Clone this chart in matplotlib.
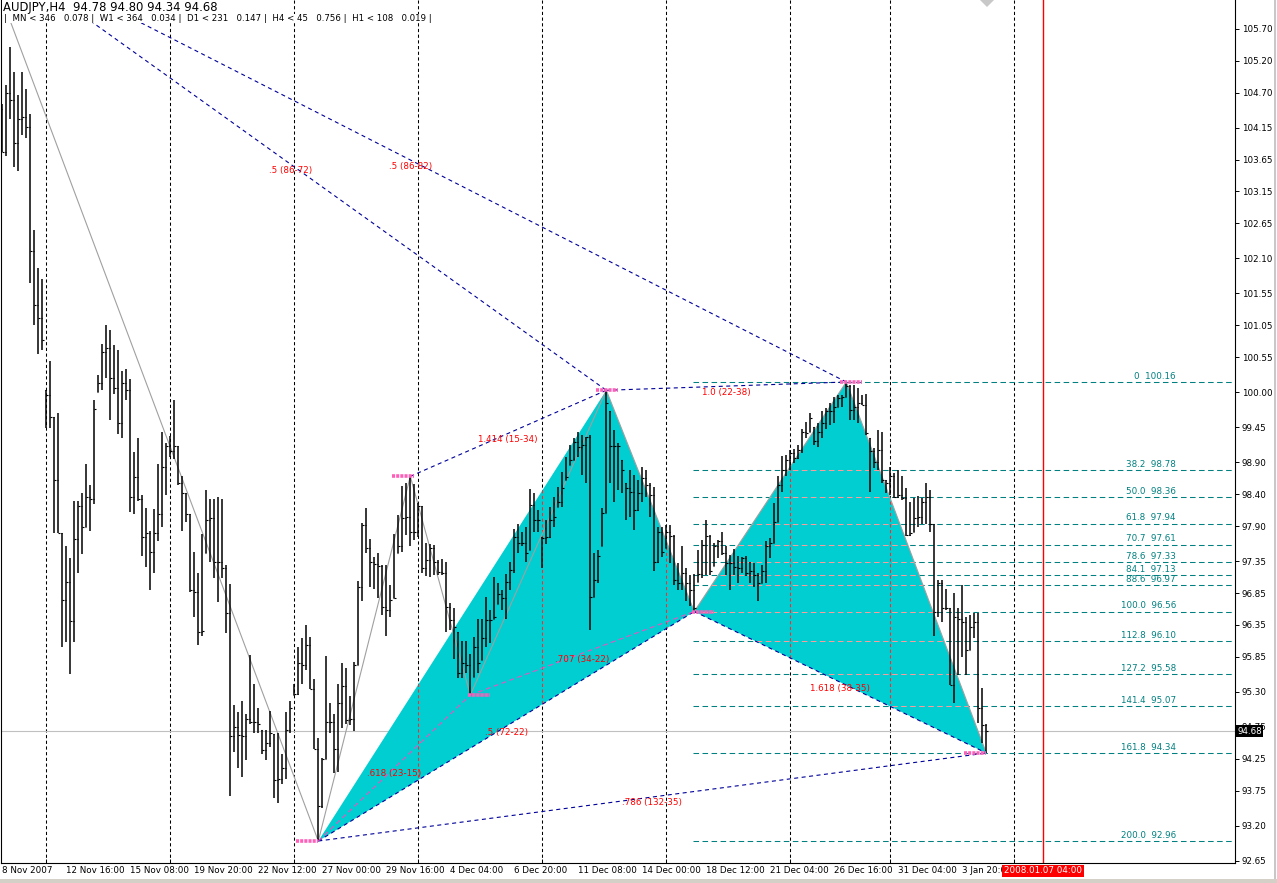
import numpy as np
import matplotlib
matplotlib.use("Agg")
import matplotlib.pyplot as plt
import matplotlib.transforms as mtransforms
from matplotlib.collections import LineCollection
from matplotlib.patches import Polygon, Rectangle

plt.rcParams['font.family'] = ['DejaVu Sans']
plt.rcParams['lines.scale_dashes'] = False

# ---------------- data ----------------
symbol_line = "AUDJPY,H4  94.78 94.80 94.34 94.68"
info_line = "|  MN < 346   0.078 |  W1 < 364   0.034 |  D1 < 231   0.147 |  H4 < 45   0.756 |  H1 < 108   0.019 |"

# H4 bars, index 0 = first visible bar (8 Nov 2007)
highs = [104.52, 104.82, 105.42, 105.02, 104.66, 105.02, 104.76, 104.36, 102.54, 101.95,
         101.77, 100.04, 100.49, 99.61, 99.67, 97.79, 97.59, 97.40, 98.30, 98.29,
         98.42, 98.88, 98.55, 99.87, 100.27, 100.76, 101.06, 100.98, 100.74, 100.66,
         100.33, 100.37, 100.20, 99.06, 99.28, 98.39, 98.19, 97.83, 98.17, 98.88,
         99.38, 99.21, 99.31, 99.87, 99.15, 98.68, 98.42, 98.09, 97.50, 97.17,
         97.77, 98.46, 98.33, 98.33, 98.35, 98.33, 97.29, 96.99, 95.09, 94.99,
         95.15, 94.96, 95.88, 95.43, 95.04, 94.70, 94.70, 95.00, 94.64, 94.65,
         94.33, 94.98, 95.15, 95.43, 96.01, 96.15, 96.35, 96.16, 95.50, 94.57,
         94.26, 95.86, 95.13, 94.96, 95.42, 95.75, 95.68, 95.23, 95.77, 97.04,
         97.95, 98.18, 97.69, 97.41, 97.48, 97.29, 97.29, 96.97, 97.78, 98.07,
         98.53, 98.57, 98.68, 98.56, 98.26, 98.21, 97.64, 97.62, 97.60, 97.37,
         97.38, 97.34, 96.69, 96.62, 96.24, 96.09, 96.09, 95.90, 96.16, 96.44,
         96.45, 96.79, 96.58, 97.10, 97.00, 96.90, 97.15, 97.33, 97.86, 97.94,
         97.81, 97.89, 98.48, 98.42, 98.15, 97.73, 97.99, 98.20, 98.35, 98.52,
         98.75, 98.99, 99.17, 99.28, 99.38, 99.33, 99.30, 99.33, 97.47, 97.53,
         98.18, 100.03, 99.70, 99.41, 99.20, 98.94, 98.57, 98.78, 98.70, 98.62,
         98.83, 98.78, 98.57, 98.52, 97.89, 97.89, 97.92, 97.92, 97.76, 97.32,
         97.58, 97.24, 97.13, 97.15, 97.53, 97.68, 97.99, 97.76, 97.64, 97.68,
         97.81, 97.58, 97.45, 97.54, 97.43, 97.42, 97.43, 97.33, 97.32, 97.16,
         97.29, 97.66, 97.71, 98.26, 98.69, 99.00, 99.02, 99.10, 99.11, 99.17,
         99.43, 99.54, 99.67, 99.46, 99.51, 99.70, 99.75, 99.83, 99.93, 99.96,
         99.96, 100.16, 100.11, 100.11, 100.06, 99.96, 99.97, 99.28, 99.12, 99.41,
         99.38, 98.62, 98.82, 98.73, 98.78, 98.68, 98.49, 98.28, 98.34, 98.37,
         98.34, 98.57, 98.47, 97.94, 97.06, 97.06, 96.92, 96.61, 96.85, 96.61,
         96.98, 96.48, 96.51, 96.53, 96.53, 95.36, 94.80]
lows = [103.77, 103.70, 104.29, 103.54, 103.47, 104.03, 103.98, 101.72, 101.06, 100.60,
        100.66, 99.44, 99.44, 97.79, 97.79, 96.01, 96.08, 95.58, 96.08, 97.17,
        97.46, 97.89, 97.83, 98.25, 100.00, 100.04, 100.23, 99.57, 99.97, 99.34,
        99.28, 99.87, 98.12, 98.09, 98.29, 97.43, 97.26, 96.90, 97.17, 97.66,
        97.89, 98.39, 98.98, 98.95, 98.55, 97.83, 97.96, 96.87, 96.47, 96.04,
        96.17, 97.47, 97.34, 97.08, 96.71, 97.08, 96.23, 93.66, 94.35, 94.10,
        93.97, 94.23, 94.80, 94.66, 94.66, 94.33, 94.23, 94.44, 93.64, 93.55,
        93.85, 93.94, 94.65, 95.25, 95.25, 95.42, 95.64, 95.34, 94.40, 92.96,
        93.47, 94.24, 94.65, 94.02, 94.05, 94.73, 94.80, 94.78, 94.68, 95.72,
        96.73, 97.47, 96.95, 96.92, 96.77, 96.50, 96.17, 96.47, 96.77, 97.47,
        97.50, 97.76, 97.59, 97.68, 97.73, 97.16, 97.12, 97.10, 97.13, 97.13,
        97.13, 96.24, 96.27, 95.82, 95.51, 95.51, 95.59, 95.25, 95.54, 95.59,
        95.80, 96.01, 96.06, 96.44, 96.68, 96.58, 96.44, 96.89, 97.17, 97.47,
        97.58, 97.34, 97.52, 97.81, 97.81, 97.25, 97.62, 97.71, 97.89, 98.20,
        98.20, 98.63, 98.86, 98.94, 98.99, 98.70, 98.58, 96.27, 96.79, 97.00,
        97.58, 98.10, 98.57, 98.28, 98.47, 98.42, 98.00, 98.05, 97.84, 98.13,
        98.28, 98.36, 98.05, 97.19, 97.32, 97.42, 97.55, 97.32, 96.98, 96.90,
        96.90, 96.72, 96.64, 96.56, 97.03, 97.08, 97.13, 97.13, 97.27, 97.40,
        97.45, 97.13, 96.90, 97.13, 97.00, 97.16, 97.11, 97.00, 96.95, 96.72,
        97.00, 97.00, 97.40, 97.63, 97.97, 98.44, 98.69, 98.78, 98.89, 98.95,
        99.04, 99.28, 99.38, 99.17, 99.14, 99.28, 99.43, 99.49, 99.52, 99.77,
        99.77, 99.93, 99.57, 99.57, 99.52, 99.80, 99.33, 98.44, 98.81, 98.78,
        98.57, 98.42, 98.39, 98.34, 98.34, 98.31, 97.74, 97.74, 97.81, 97.89,
        97.94, 97.94, 97.81, 96.17, 96.48, 96.40, 96.59, 95.41, 95.12, 95.57,
        95.85, 95.57, 95.96, 96.14, 94.81, 94.49, 94.34]
closes = [103.77, 104.69, 104.59, 103.91, 104.29, 104.31, 104.16, 102.21, 101.36, 101.16,
          100.82, 99.95, 99.61, 98.62, 97.79, 96.74, 97.03, 96.41, 97.69, 98.22,
          97.89, 98.35, 98.32, 99.74, 100.14, 100.63, 100.70, 100.23, 100.07, 99.51,
          100.14, 100.04, 98.35, 98.67, 98.32, 97.73, 97.79, 97.50, 97.79, 98.09,
          98.82, 99.15, 99.08, 99.15, 98.58, 98.42, 98.09, 96.90, 96.87, 96.24,
          96.26, 97.99, 98.02, 97.34, 97.34, 97.24, 96.53, 94.60, 94.75, 94.62,
          94.60, 94.88, 94.83, 94.82, 94.80, 94.39, 94.49, 94.65, 93.92, 93.94,
          94.10, 94.70, 95.04, 95.27, 95.75, 95.72, 96.03, 95.35, 94.40, 93.51,
          94.24, 94.83, 94.83, 94.40, 95.12, 95.39, 94.86, 94.88, 95.72, 96.95,
          97.92, 97.55, 97.34, 97.30, 97.27, 96.63, 96.58, 96.74, 96.77, 97.58,
          98.02, 98.05, 97.81, 97.81, 98.21, 97.24, 97.37, 97.55, 97.34, 97.18,
          97.16, 96.63, 96.43, 96.32, 95.59, 95.75, 95.72, 95.26, 96.01, 95.75,
          96.14, 96.43, 96.43, 96.48, 96.84, 96.77, 97.03, 97.21, 97.73, 97.63,
          97.63, 97.48, 98.23, 98.00, 98.00, 97.71, 97.73, 98.00, 98.05, 98.28,
          98.49, 98.67, 98.94, 99.22, 99.14, 99.17, 99.30, 96.79, 97.05, 97.43,
          98.10, 99.83, 99.15, 99.15, 99.16, 98.78, 98.49, 98.44, 98.15, 98.42,
          98.65, 98.55, 98.39, 97.33, 97.81, 97.50, 97.80, 97.74, 97.06, 97.00,
          97.16, 97.00, 96.90, 96.61, 97.15, 97.60, 97.74, 97.19, 97.58, 97.66,
          97.47, 97.32, 97.32, 97.26, 97.24, 97.40, 97.16, 97.19, 97.13, 97.00,
          97.19, 97.58, 97.63, 97.97, 98.55, 98.78, 98.94, 99.04, 98.96, 99.10,
          99.38, 99.36, 99.59, 99.23, 99.38, 99.51, 99.70, 99.70, 99.77, 99.91,
          99.93, 100.09, 99.72, 99.77, 99.83, 99.80, 99.36, 99.07, 98.91, 99.10,
          98.62, 98.57, 98.68, 98.36, 98.39, 98.34, 97.76, 97.79, 98.02, 98.05,
          98.28, 98.36, 97.94, 96.56, 97.00, 96.61, 96.61, 95.41, 96.48, 96.45,
          96.40, 95.96, 96.32, 96.40, 95.04, 94.78, 94.68]
first_open = 104.45
last_open = 94.78
last_price = 94.68

# harmonic pattern pivots (bar index, price); P0 lies off the top-left corner
pivots = {
    "P0": (-6.8, 107.12),
    "Z0": (-3.1, 106.67),
    "X": (79, 92.96),
    "B": (102, 98.68),
    "A": (117, 95.25),
    "C": (151, 100.03),
    "D1": (173, 96.56),
    "D2": (211, 100.16),
    "E": (246, 94.34),
}
zigzag = ["Z0", "X", "B", "A", "C", "D1", "D2", "E"]
blue_lines = [("P0", "C", ".5 (86-72)"), ("P0", "D2", ".5 (86-82)"),
              ("B", "C", "1.414 (15-34)"), ("C", "D2", "1.0 (22-38)"),
              ("X", "D1", ".5 (72-22)"), ("D1", "E", "1.618 (38-35)"),
              ("X", "E", ".786 (132-35)")]
pink_lines = [("X", "A", ".618 (23-15)"), ("A", "D1", ".707 (34-22)")]
marker_start = [73.5, 97.5, 116.5, 148.5, 172.5, 209.5, 240.5]
marker_price = [92.96, 98.68, 95.25, 100.03, 96.56, 100.16, 94.34]

fib_levels = ["0", "38.2", "50.0", "61.8", "70.7", "78.6", "84.1", "88.6",
              "100.0", "112.8", "127.2", "141.4", "161.8", "200.0"]
fib_prices = [100.16, 98.78, 98.36, 97.94, 97.61, 97.33, 97.13, 96.97,
              96.56, 96.10, 95.58, 95.07, 94.34, 92.96]

separators = [11, 42, 73, 104, 135, 166, 197, 222, 253]
date_idx = list(range(0, 241, 16))
date_labels = ["8 Nov 2007", "12 Nov 16:00", "15 Nov 08:00", "19 Nov 20:00",
               "22 Nov 12:00", "27 Nov 00:00", "29 Nov 16:00", "4 Dec 04:00",
               "6 Dec 20:00", "11 Dec 08:00", "14 Dec 00:00", "18 Dec 12:00",
               "21 Dec 04:00", "26 Dec 16:00", "31 Dec 04:00", "3 Jan 20:00"]
red_idx = 260.2
red_label = "2008.01.07 04:00"
price_ticks = ["105.70", "105.20", "104.70", "104.15", "103.65", "103.15", "102.65",
               "102.10", "101.55", "101.05", "100.55", "100.00", "99.45", "98.90",
               "98.40", "97.90", "97.35", "96.85", "96.35", "95.85", "95.30",
               "94.75", "94.25", "93.75", "93.20", "92.65"]

# ---------------- figure ----------------
W, H = 1277, 883
fig = plt.figure(figsize=(W / 100, H / 100), dpi=100)
fig.patch.set_facecolor("white")
ax = fig.add_axes([1 / W, 20 / H, 1234 / W, 863 / H])
x0, x1 = -0.325, 308.175
y0, y1 = 92.615, 106.152
ax.set_xlim(x0, x1)
ax.set_ylim(y0, y1)

CYAN = "#00CED1"
TEAL = "#008080"
NAVY = "#00009A"
PINK = "#F050C0"
FS = 6.3

# period separators
sep_ls = (0, (2.3, 1.8))
ax.vlines(separators, y0, y1, colors="black", linestyles=sep_ls, lw=0.75, zorder=0.7)

# fibonacci levels
fib_ls = (0, (4, 2.5))
fib_x0 = pivots["D1"][0] - 0.3
ax.hlines(fib_prices, fib_x0, x1, colors=TEAL, linestyles=fib_ls, lw=0.75, zorder=0.8)
for lvl, p in zip(fib_levels, fib_prices):
    ax.annotate(f"{lvl}  {p:.2f}", (293.4, p), xytext=(0, 0.8), textcoords="offset points",
                ha="right", va="bottom", color=TEAL, fontsize=FS, zorder=5)

# current price line
ax.axhline(last_price, color="#C0C0C0", lw=0.8, zorder=0.9)

# cyan pattern triangles
tri1 = Polygon([pivots["X"], pivots["C"], pivots["D1"]], closed=True, fc=CYAN, ec="none", zorder=1)
tri2 = Polygon([pivots["D1"], pivots["D2"], pivots["E"]], closed=True, fc=CYAN, ec="none", zorder=1)
ax.add_patch(tri1)
ax.add_patch(tri2)

# lines drawn over the cyan change colour (xor look of the terminal)
for tri in (tri1, tri2):
    lc = ax.vlines(separators, y0, y1, colors="#FF2A2A", linestyles=sep_ls, lw=0.75, zorder=1.2)
    lc.set_clip_path(tri)
    lc = ax.hlines(fib_prices, fib_x0, x1, colors="#FF9A9A", linestyles=fib_ls, lw=0.75, zorder=1.2)
    lc.set_clip_path(tri)

# red time line
ax.axvline(red_idx, color="red", lw=1.0, zorder=1.5)

# zigzag
ax.plot([pivots[k][0] for k in zigzag], [pivots[k][1] for k in zigzag],
        color="#A0A0A0", lw=0.8, zorder=2)

# OHLC bars
n = len(highs)
idx = np.arange(n)
opens = np.r_[first_open, closes[:-1]]
opens[-1] = last_open
opens = np.clip(opens, lows, highs)
tk = 0.42
vsegs = [[(i, lo), (i, hi)] for i, lo, hi in zip(idx, lows, highs)]
tsegs = [[(i - tk, o), (i, o)] for i, o in zip(idx, opens)] + \
        [[(i, c), (i + tk, c)] for i, c in zip(idx, closes)]
ax.add_collection(LineCollection(vsegs, colors="black", lw=1.1, zorder=3))
ax.add_collection(LineCollection(tsegs, colors="black", lw=0.8, zorder=3))

# pattern legs with their ratio labels
def leg(a, b, text, color, ls):
    (xa, ya), (xb, yb) = pivots[a], pivots[b]
    ax.plot([xa, xb], [ya, yb], color=color, lw=0.8, ls=ls, zorder=4)
    ax.annotate(text, ((xa + xb) / 2, (ya + yb) / 2), xytext=(0, -4.3),
                textcoords="offset points", ha="center", va="center",
                color="red", fontsize=FS, zorder=6)

for a, b, t in blue_lines:
    leg(a, b, t, NAVY, (0, (2.9, 2.5)))
for a, b, t in pink_lines:
    leg(a, b, t, PINK, (0, (3.5, 2.5)))

# pivot markers
for s, p in zip(marker_start, marker_price):
    ax.plot([s, s + 5.5], [p, p], color="#FF5FB8", lw=2.6, ls=(0, (2.2, 0.8)),
            solid_capstyle="butt", dash_capstyle="butt", zorder=5)

# axes styling
for side in ("left", "right", "bottom"):
    ax.spines[side].set_color("black")
    ax.spines[side].set_linewidth(0.8)
ax.spines["top"].set_visible(False)
ax.yaxis.tick_right()
ax.set_yticks([float(t) for t in price_ticks])
ax.set_yticklabels(price_ticks)
ax.tick_params(axis="y", direction="out", length=3, width=0.7, pad=2, labelsize=FS)
ax.set_xticks(separators)
ax.tick_params(axis="x", direction="in", length=3, width=0.7, labelbottom=False)

trans = mtransforms.blended_transform_factory(ax.transData, ax.transAxes)
for i, lab in zip(date_idx, date_labels):
    ax.text(i, -0.004, lab, transform=trans, ha="left", va="top", fontsize=FS, clip_on=False)
ax.text(red_idx, -0.004, red_label, transform=trans, ha="center", va="top", color="white",
        fontsize=FS, clip_on=False, zorder=20,
        bbox=dict(boxstyle="square,pad=0.22", fc="red", ec="none"))

ptrans = mtransforms.blended_transform_factory(ax.transAxes, ax.transData)
ax.text(1.0 + 2 / 1234, last_price, f"{last_price:.2f}", transform=ptrans, ha="left",
        va="center", color="white", fontsize=FS, clip_on=False, zorder=20,
        bbox=dict(boxstyle="square,pad=0.18", fc="black", ec="none"))

# chart header
fig.text(3 / W, 1 - 1 / H, symbol_line, ha="left", va="top", fontsize=8.4,
         bbox=dict(boxstyle="square,pad=0.05", fc="white", ec="none"), zorder=10)
fig.text(4 / W, 1 - 14 / H, info_line, ha="left", va="top", fontsize=6.2,
         bbox=dict(boxstyle="square,pad=0.05", fc="white", ec="none"), zorder=10)

# shift marker at the top and window border
fig.add_artist(Polygon([(980 / W, 1.0), (994 / W, 1.0), (987 / W, 1 - 7 / H)],
                       closed=True, transform=fig.transFigure, fc="#C8C8C8", ec="none"))
fig.add_artist(Rectangle((1274 / W, 0), 1.5 / W, 1, transform=fig.transFigure,
                         fc="#C8C8C8", ec="none"))
fig.add_artist(Rectangle((0, 0), 1, 4 / H, transform=fig.transFigure,
                         fc="#D4D0C8", ec="none"))

fig.savefig("out.png", dpi=100)
